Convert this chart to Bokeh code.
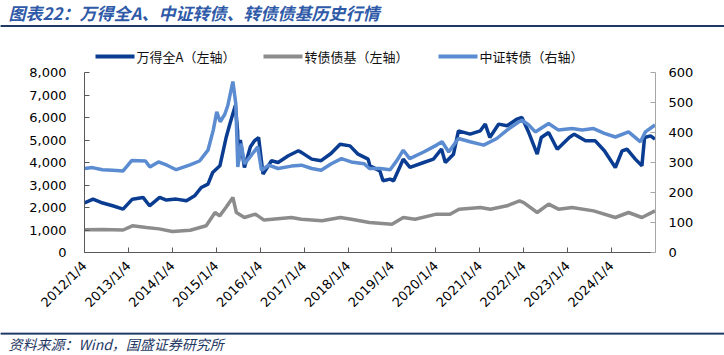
import math
import pandas as pd
from bokeh.plotting import figure
from bokeh.layouts import column
from bokeh.models import (ColumnDataSource, Range1d, LinearAxis, DatetimeAxis, FixedTicker,
                          NumeralTickFormatter, CustomJSTickFormatter, BoxAnnotation)
from bokeh.core.properties import value
from bokeh.embed import file_html
from bokeh.resources import INLINE

# ---------------- data ----------------
wind_a_dates = ["2012-01-04", "2012-03-15", "2012-05-20", "2012-08-25", "2012-11-20",
                "2013-02-05", "2013-05-05", "2013-06-28", "2013-09-20", "2013-11-15",
                "2014-02-05", "2014-05-01", "2014-07-08", "2014-09-01", "2014-10-27",
                "2014-12-05", "2015-02-03", "2015-03-15", "2015-03-27", "2015-04-27",
                "2015-06-12", "2015-06-30", "2015-07-08", "2015-07-23", "2015-08-26",
                "2015-10-15", "2015-11-18", "2015-12-22", "2016-01-28", "2016-04-07",
                "2016-06-01", "2016-08-25", "2016-11-17", "2016-12-15", "2017-03-08",
                "2017-05-25", "2017-08-15", "2017-10-30", "2018-01-20", "2018-03-28",
                "2018-06-20", "2018-07-05", "2018-09-25", "2018-10-22", "2018-12-20",
                "2019-01-18", "2019-03-15", "2019-04-08", "2019-06-03", "2019-09-25",
                "2019-12-15", "2020-02-20", "2020-03-23", "2020-05-30", "2020-07-10",
                "2020-10-15", "2021-01-08", "2021-02-18", "2021-03-28", "2021-06-10",
                "2021-08-18", "2021-11-10", "2021-12-20", "2022-02-15", "2022-04-26",
                "2022-05-30", "2022-07-30", "2022-10-10", "2023-01-18", "2023-02-28",
                "2023-06-02", "2023-08-22", "2023-11-06", "2024-02-05", "2024-04-01",
                "2024-05-12", "2024-07-20", "2024-09-13", "2024-10-05", "2024-11-24",
                "2024-12-31"]
wind_a_values = [2200, 2370, 2224, 2076, 1930,
                 2370, 2447, 2076, 2447, 2330,
                 2373, 2300, 2520, 2889, 3037,
                 3556, 3853, 4815, 5111, 5707,
                 6550, 5400, 4076, 5000, 3777,
                 4700, 4963, 5111, 3484, 4076,
                 4000, 4298, 4520, 4440, 4150,
                 4080, 4400, 4815, 4740, 4370,
                 4150, 3850, 3630, 3187, 3260,
                 3187, 3853, 4150, 3780, 4000,
                 4150, 4600, 4000, 4370, 5407,
                 5260, 5407, 5707, 5111, 5707,
                 5630, 5930, 6000, 5330, 4370,
                 5111, 5333, 4590, 5111, 5260,
                 4963, 4963, 4520, 3777, 4520,
                 4590, 4150, 3853, 5111, 5185,
                 5037]

cb_fund_dates = ["2012-01-04", "2012-06-01", "2012-11-20", "2013-02-05", "2013-06-01",
                 "2013-09-15", "2014-01-04", "2014-06-01", "2014-10-12", "2014-12-25",
                 "2015-02-01", "2015-03-25", "2015-05-22", "2015-06-20", "2015-08-26",
                 "2015-11-25", "2016-02-05", "2016-09-20", "2016-12-12", "2017-06-01",
                 "2017-11-01", "2018-02-01", "2018-07-01", "2019-01-04", "2019-04-08",
                 "2019-07-15", "2020-01-10", "2020-05-01", "2020-07-15", "2021-01-10",
                 "2021-04-01", "2021-08-18", "2021-11-30", "2022-01-04", "2022-04-26",
                 "2022-07-30", "2022-10-20", "2023-02-10", "2023-08-08", "2024-02-05",
                 "2024-05-25", "2024-09-13", "2024-12-31"]
cb_fund_values = [1010, 1020, 1000, 1187, 1110,
                  1050, 933, 990, 1187, 1778,
                  1630, 2000, 2444, 1778, 1556,
                  1704, 1440, 1556, 1480, 1407,
                  1556, 1480, 1333, 1260, 1556,
                  1480, 1704, 1704, 1926, 2000,
                  1926, 2074, 2296, 2220, 1778,
                  2150, 1926, 2000, 1850, 1556,
                  1778, 1556, 1850]

csi_cb_dates = ["2012-01-04", "2012-03-10", "2012-06-01", "2012-08-25", "2012-11-20",
                "2013-02-01", "2013-05-25", "2013-07-01", "2013-09-10", "2013-11-20",
                "2014-02-05", "2014-05-25", "2014-08-18", "2014-10-27", "2014-12-10",
                "2015-01-08", "2015-02-05", "2015-03-15", "2015-04-10", "2015-05-22",
                "2015-06-15", "2015-07-02", "2015-07-30", "2015-08-26", "2015-10-22",
                "2015-12-15", "2016-01-15", "2016-03-15", "2016-06-01", "2016-09-20",
                "2016-12-12", "2017-03-08", "2017-05-25", "2017-08-18", "2017-11-10",
                "2018-01-30", "2018-05-18", "2018-07-01", "2018-09-27", "2018-12-20",
                "2019-02-15", "2019-04-08", "2019-06-01", "2019-09-25", "2020-01-10",
                "2020-02-25", "2020-04-20", "2020-07-10", "2020-10-15", "2021-02-05",
                "2021-05-25", "2021-08-18", "2021-11-25", "2021-12-20", "2022-02-15",
                "2022-04-10", "2022-07-30", "2022-10-20", "2023-02-10", "2023-05-05",
                "2023-08-08", "2023-11-06", "2024-02-05", "2024-05-25", "2024-09-01",
                "2024-10-12", "2024-12-31"]
csi_cb_values = [280, 283, 276, 274, 272,
                 307, 305, 285, 302, 291,
                 276, 291, 305, 341, 408,
                 469, 436, 460, 490, 570,
                 497, 285, 363, 295, 324,
                 352, 274, 291, 280, 288,
                 291, 280, 274, 296, 313,
                 302, 296, 280, 280, 276,
                 307, 341, 313, 335, 358,
                 369, 335, 380, 369, 358,
                 380, 408, 436, 441, 425,
                 402, 430, 408, 413, 408,
                 413, 397, 385, 402, 369,
                 402, 425]

left_ticks = [0, 1000, 2000, 3000, 4000, 5000, 6000, 7000, 8000]
right_ticks = [0, 100, 200, 300, 400, 500, 600]
x_tick_dates = ["2012-01-04", "2013-01-04", "2014-01-04", "2015-01-04", "2016-01-04",
                "2017-01-04", "2018-01-04", "2019-01-04", "2020-01-04", "2021-01-04",
                "2022-01-04", "2023-01-04", "2024-01-04"]

series_names = ["万得全A（左轴）", "转债债基（左轴）", "中证转债（右轴）"]
title_text = "图表22：万得全A、中证转债、转债债基历史行情"
source_text = "资料来源：Wind，国盛证券研究所"

C_DARK = "#0a3d91"
C_GRAY = "#8c8c8c"
C_LIGHT = "#5b8bd0"
C_NAVY = "#1f3864"
C_TITLE = "#2f5aa8"
W = 724
CJK = value("Noto Sans CJK SC")


def strip_figure(h):
    f = figure(width=W, height=h, x_range=Range1d(0, W), y_range=Range1d(0, h),
               x_axis_type=None, y_axis_type=None, toolbar_location=None,
               output_backend="svg", min_border=0, outline_line_color=None,
               frame_align=False)
    f.grid.visible = False
    return f


# ---------------- header (y measured upward from its bottom edge) ----------------
HH = 66
head = strip_figure(HH)
head.text(x=[8], y=[HH - 12], text=[title_text], text_font=CJK, text_font_size="17px",
          text_font_style="bold italic", text_color=C_TITLE, text_baseline="middle")
head.line(x=[0, W / 2, W], y=[HH - 25.5] * 3, line_color=C_NAVY, line_width=2)
head.add_layout(BoxAnnotation(left=0, right=W, bottom=HH - 26.5, top=HH - 24.5,
                              fill_color=C_NAVY, fill_alpha=1, line_color=None))
leg_colors = [C_DARK, C_GRAY, C_LIGHT]
leg_x = [95, 263, 438]
for name, col, lx in zip(series_names, leg_colors, leg_x):
    head.segment(x0=[lx], y0=[HH - 56], x1=[lx + 39], y1=[HH - 56], line_color=col, line_width=4)
    head.text(x=[lx + 41], y=[HH - 56], text=[name], text_font=CJK, text_font_size="13px",
              text_color="#111111", text_baseline="middle")

# ---------------- main chart ----------------
MH = 266
p = figure(width=W, height=MH, x_axis_type=None, y_axis_type=None,
           x_range=Range1d(pd.Timestamp("2012-01-04"), pd.Timestamp("2025-01-04")),
           y_range=Range1d(0, 8000), toolbar_location=None, output_backend="svg",
           min_border_left=84, min_border_right=69, min_border_top=6,
           min_border_bottom=80, outline_line_color=None, frame_align=False)
p.grid.visible = False
p.extra_y_ranges = {"right": Range1d(0, 600)}

src_a = ColumnDataSource(dict(x=pd.to_datetime(wind_a_dates), y=wind_a_values))
src_f = ColumnDataSource(dict(x=pd.to_datetime(cb_fund_dates), y=cb_fund_values))
src_c = ColumnDataSource(dict(x=pd.to_datetime(csi_cb_dates), y=csi_cb_values))
p.line("x", "y", source=src_a, line_color=C_DARK, line_width=3.5)
p.line("x", "y", source=src_f, line_color=C_GRAY, line_width=3.5)
p.line("x", "y", source=src_c, line_color=C_LIGHT, line_width=3.5, y_range_name="right")

label_font = "DejaVu Sans"
left = LinearAxis(ticker=FixedTicker(ticks=left_ticks),
                  formatter=NumeralTickFormatter(format="0,0"))
right = LinearAxis(ticker=FixedTicker(ticks=right_ticks), y_range_name="right")
bottom = DatetimeAxis(ticker=FixedTicker(ticks=[pd.Timestamp(d).value // 10**6 for d in x_tick_dates]),
                      formatter=CustomJSTickFormatter(code="""
const d = new Date(tick);
return d.getUTCFullYear() + '/' + (d.getUTCMonth() + 1) + '/' + d.getUTCDate();
"""))
for ax, colr in ((left, "#595959"), (right, "#a6a6a6"), (bottom, "#595959")):
    ax.axis_line_color = colr
    ax.major_tick_line_color = colr
    ax.minor_tick_line_color = None
    ax.major_tick_in = 5
    ax.major_tick_out = 0
    ax.major_label_text_font = label_font
    ax.major_label_text_font_size = "13px"
    ax.major_label_text_color = "#000000"
left.major_label_standoff = 18
right.major_label_standoff = 13
bottom.major_label_standoff = 11
bottom.major_label_orientation = math.pi / 4
p.add_layout(left, "left")
p.add_layout(right, "right")
p.add_layout(bottom, "below")

# ---------------- footer (y measured upward from its bottom edge) ----------------
FH = 355 - HH - MH
foot = strip_figure(FH)
foot.line(x=[0, W / 2, W], y=[FH - 1] * 3, line_color=C_NAVY, line_width=1.8)
foot.add_layout(BoxAnnotation(left=0, right=W, bottom=FH - 1.8, top=FH - 0.2,
                              fill_color=C_NAVY, fill_alpha=1, line_color=None))
foot.text(x=[8], y=[FH - 11], text=[source_text], text_font=CJK, text_font_size="14px",
          text_font_style="italic", text_color=C_NAVY, text_baseline="middle")

layout = column(head, p, foot, spacing=0)
open("out.html", "w").write(file_html(layout, INLINE))
